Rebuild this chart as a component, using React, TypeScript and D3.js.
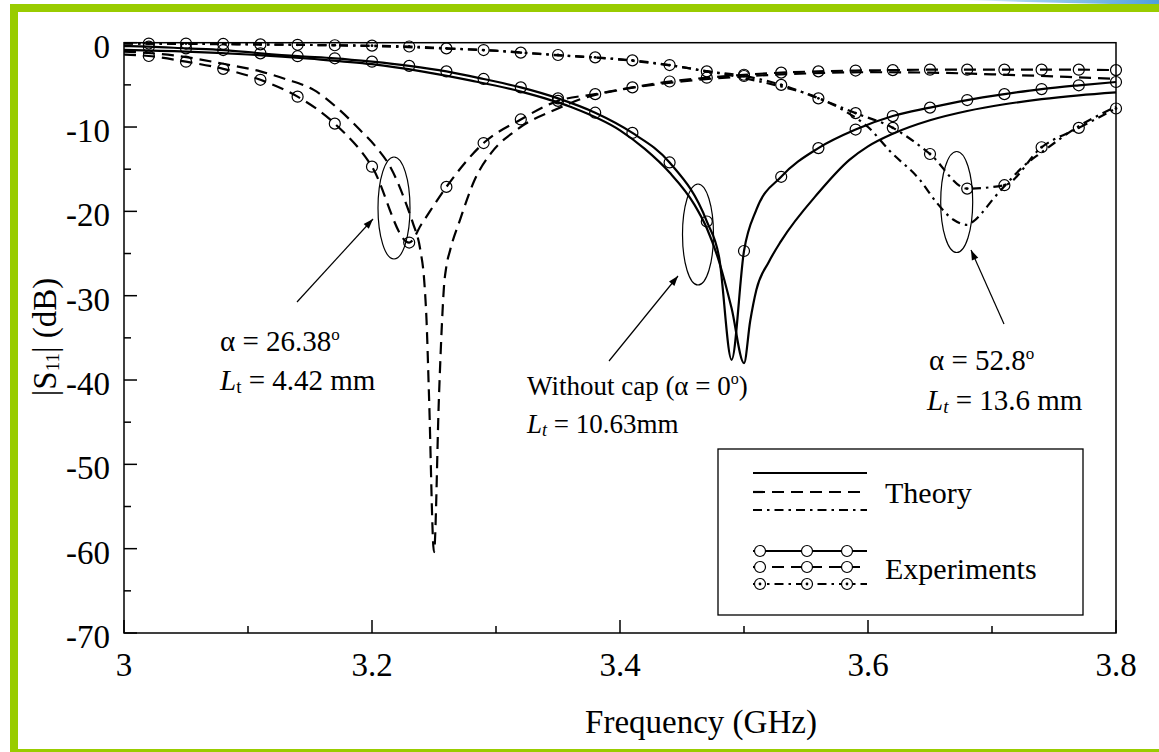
import React, { useEffect, useRef } from 'react';
import * as d3 from 'd3';

// |S11| (dB) vs frequency (GHz)
const theoryNoCap: [number, number][] = [
  [3.0, -0.85], [3.05, -1.05], [3.1, -1.4], [3.15, -1.9], [3.2, -2.55], [3.24, -3.4],
  [3.28, -4.5], [3.32, -5.8], [3.36, -7.6], [3.4, -10.4], [3.42, -12.6], [3.44, -15.4],
  [3.46, -19.2], [3.47, -22.0], [3.48, -26.0], [3.49, -31.5], [3.5, -38.0], [3.505, -33.0],
  [3.51, -29.3], [3.52, -26.0], [3.53, -23.5], [3.56, -17.8], [3.585, -13.9], [3.6, -12.3],
  [3.62, -10.8], [3.65, -9.2], [3.68, -8.1], [3.71, -7.3], [3.74, -6.7], [3.77, -6.25], [3.8, -5.9],
];

const expNoCap: [number, number][] = [
  [3.0, -0.4], [3.02, -0.47], [3.05, -0.67], [3.08, -0.87], [3.11, -1.26], [3.14, -1.6],
  [3.17, -1.85], [3.2, -2.25], [3.23, -2.75], [3.26, -3.4], [3.29, -4.3], [3.32, -5.3],
  [3.35, -6.6], [3.38, -8.3], [3.41, -10.7], [3.44, -14.2], [3.47, -21.2], [3.48, -25.5],
  [3.49, -37.6], [3.5, -24.7], [3.51, -19.8], [3.53, -15.9], [3.56, -12.5], [3.59, -10.3],
  [3.62, -8.7], [3.65, -7.7], [3.68, -6.8], [3.71, -6.1], [3.74, -5.5], [3.77, -5.05], [3.8, -4.66],
];

const theory26: [number, number][] = [
  [3.0, -1.05], [3.04, -1.5], [3.08, -2.5], [3.11, -3.4], [3.13, -4.3], [3.153, -5.6],
  [3.174, -8.0], [3.19, -10.3], [3.204, -12.5], [3.215, -14.8], [3.222, -17.0], [3.228, -19.3],
  [3.233, -21.4], [3.239, -24.6], [3.242, -28.0], [3.244, -33.0], [3.246, -42.0], [3.25, -60.4],
  [3.254, -42.0], [3.2565, -33.0], [3.258, -29.0], [3.26, -26.5], [3.263, -24.6], [3.271, -21.0],
  [3.283, -16.2], [3.296, -13.1], [3.316, -10.4], [3.35, -7.8], [3.37, -6.6], [3.4, -5.6],
  [3.45, -4.6], [3.5, -4.0], [3.55, -3.65], [3.6, -3.5], [3.65, -3.55], [3.7, -3.75],
  [3.75, -4.0], [3.8, -4.3],
];

const exp26: [number, number][] = [
  [3.0, -1.4], [3.02, -1.58], [3.05, -2.25], [3.08, -3.1], [3.11, -4.4], [3.14, -6.4],
  [3.17, -9.6], [3.2, -14.7], [3.23, -23.7], [3.24, -21.5], [3.26, -17.1], [3.29, -11.9],
  [3.32, -9.1], [3.35, -6.9], [3.38, -6.1], [3.41, -5.3], [3.44, -4.6], [3.47, -4.15],
  [3.5, -3.8], [3.53, -3.55], [3.56, -3.4], [3.59, -3.3], [3.62, -3.25], [3.65, -3.2],
  [3.68, -3.2], [3.71, -3.2], [3.74, -3.2], [3.77, -3.2], [3.8, -3.25],
];

const theory52: [number, number][] = [
  [3.0, -0.1], [3.1, -0.2], [3.2, -0.4], [3.26, -0.7], [3.3, -0.95], [3.35, -1.5],
  [3.4, -2.0], [3.45, -2.9], [3.5, -4.2], [3.53, -5.2], [3.55, -6.0], [3.58, -8.0],
  [3.6, -10.0], [3.618, -12.9], [3.642, -16.3], [3.655, -18.9], [3.669, -21.0], [3.68, -21.6],
  [3.685, -21.2], [3.693, -20.0], [3.7, -18.7], [3.712, -16.7], [3.725, -14.7], [3.741, -12.9],
  [3.77, -9.9], [3.8, -7.6],
];

const exp52: [number, number][] = [
  [3.0, -0.05], [3.02, -0.1], [3.05, -0.1], [3.08, -0.15], [3.11, -0.2], [3.14, -0.25],
  [3.17, -0.3], [3.2, -0.35], [3.23, -0.45], [3.26, -0.67], [3.29, -0.87], [3.32, -1.18],
  [3.35, -1.46], [3.38, -1.74], [3.41, -2.1], [3.44, -2.65], [3.47, -3.4], [3.5, -3.95],
  [3.53, -5.0], [3.56, -6.6], [3.59, -8.35], [3.62, -10.1], [3.65, -13.2], [3.68, -17.3],
  [3.71, -16.9], [3.74, -12.4], [3.77, -10.1], [3.8, -7.8],
];

// measured points that carry a circle marker
const markerFreqs = [
  3.02, 3.05, 3.08, 3.11, 3.14, 3.17, 3.2, 3.23, 3.26, 3.29, 3.32, 3.35, 3.38, 3.41,
  3.44, 3.47, 3.5, 3.53, 3.56, 3.59, 3.62, 3.65, 3.68, 3.71, 3.74, 3.77, 3.8,
];

const xTicks = [3.0, 3.2, 3.4, 3.6, 3.8];
const xTickLabels = ['3', '3.2', '3.4', '3.6', '3.8'];
const xMinorTicks = [3.1, 3.3, 3.5, 3.7];
const yTicks = [0, -10, -20, -30, -40, -50, -60, -70];
const yTickLabels = ['0', '-10', '-20', '-30', '-40', '-50', '-60', '-70'];
const yMinorTicks = [-5, -15, -25, -35, -45, -55, -65];

const W = 1159;
const H = 752;
const FONT = "'Liberation Serif', 'DejaVu Serif', serif";
const GREEN = '#99cc00';
const DASH = '12 7';
const DASHDOT = '9 5 2.5 5';

export default function App() {
  const svgRef = useRef<SVGSVGElement>(null);

  useEffect(() => {
    const svg = d3.select(svgRef.current);
    svg.selectAll('*').remove();

    const x = d3.scaleLinear().domain([3, 3.8]).range([124, 1116]);
    const y = d3.scaleLinear().domain([-70, 0]).range([633, 42.7]);

    const defs = svg.append('defs');
    const grad = defs.append('linearGradient').attr('id', 'topblue')
      .attr('x1', '0%').attr('x2', '100%');
    grad.append('stop').attr('offset', '0%').attr('stop-color', '#5aa9e6').attr('stop-opacity', 0);
    grad.append('stop').attr('offset', '40%').attr('stop-color', '#7fbdea').attr('stop-opacity', 0.8);
    grad.append('stop').attr('offset', '100%').attr('stop-color', '#4f9fdc');
    defs.append('marker').attr('id', 'arrow')
      .attr('viewBox', '0 0 10 10').attr('refX', 10).attr('refY', 5)
      .attr('markerWidth', 16).attr('markerHeight', 10).attr('markerUnits', 'userSpaceOnUse')
      .attr('orient', 'auto')
      .append('path').attr('d', 'M0,1.5 L10,5 L0,8.5 Z').attr('fill', '#000');

    // page frame
    svg.append('rect').attr('width', W).attr('height', H).attr('fill', '#fff');
    svg.append('path').attr('d', 'M958,0 L1159,0 L1159,5 Q1060,3 958,0 Z').attr('fill', 'url(#topblue)');
    svg.append('rect').attr('x', 10).attr('y', 4).attr('width', W - 10).attr('height', 8).attr('fill', GREEN);
    svg.append('rect').attr('x', 10).attr('y', 4).attr('width', 8).attr('height', H - 4).attr('fill', GREEN);
    svg.append('rect').attr('x', 10).attr('y', 749).attr('width', W - 10).attr('height', 3).attr('fill', GREEN);

    // curves
    const line = d3.line<[number, number]>()
      .x(d => x(d[0])).y(d => y(d[1]))
      .curve(d3.curveMonotoneX);

    const series = [
      { data: theoryNoCap, dash: null, exp: false, dot: false },
      { data: expNoCap, dash: null, exp: true, dot: false },
      { data: theory26, dash: DASH, exp: false, dot: false },
      { data: exp26, dash: DASH, exp: true, dot: false },
      { data: theory52, dash: DASHDOT, exp: false, dot: false },
      { data: exp52, dash: DASHDOT, exp: true, dot: true },
    ];

    const plot = svg.append('g');
    series.forEach(s => {
      plot.append('path')
        .attr('d', line(s.data))
        .attr('fill', 'none')
        .attr('stroke', '#000')
        .attr('stroke-width', 2.2)
        .attr('stroke-dasharray', s.dash)
        .attr('stroke-linejoin', 'round');
      if (s.exp) {
        const pts = s.data.filter(d => markerFreqs.some(f => Math.abs(f - d[0]) < 1e-6));
        plot.selectAll(null).data(pts).enter().append('circle')
          .attr('cx', d => x(d[0])).attr('cy', d => y(d[1])).attr('r', 5.5)
          .attr('fill', 'none').attr('stroke', '#000').attr('stroke-width', 1.2);
        if (s.dot) {
          plot.selectAll(null).data(pts).enter().append('circle')
            .attr('cx', d => x(d[0])).attr('cy', d => y(d[1])).attr('r', 1.4)
            .attr('fill', '#000');
        }
      }
    });

    // axes box and ticks
    const ax = svg.append('g').attr('stroke', '#000').attr('stroke-width', 1.5);
    ax.append('rect').attr('x', x(3)).attr('y', y(0))
      .attr('width', x(3.8) - x(3)).attr('height', y(-70) - y(0)).attr('fill', 'none');
    xTicks.forEach(t => ax.append('line').attr('x1', x(t)).attr('x2', x(t)).attr('y1', y(-70)).attr('y2', y(-70) - 13));
    xMinorTicks.forEach(t => ax.append('line').attr('x1', x(t)).attr('x2', x(t)).attr('y1', y(-70)).attr('y2', y(-70) - 7));
    yTicks.forEach(t => ax.append('line').attr('x1', x(3)).attr('x2', x(3) + 13).attr('y1', y(t)).attr('y2', y(t)));
    yMinorTicks.forEach(t => ax.append('line').attr('x1', x(3)).attr('x2', x(3) + 7).attr('y1', y(t)).attr('y2', y(t)));

    const txt = svg.append('g').style('font-family', FONT).attr('fill', '#000');
    xTicks.forEach((t, i) => {
      txt.append('text').attr('x', x(t)).attr('y', 676).attr('text-anchor', 'middle')
        .attr('font-size', 33).text(xTickLabels[i]);
    });
    yTicks.forEach((t, i) => {
      txt.append('text').attr('x', 110).attr('y', y(t) + 15).attr('text-anchor', 'end')
        .attr('font-size', 33).text(yTickLabels[i]);
    });

    // axis titles
    txt.append('text').attr('x', 701).attr('y', 733).attr('text-anchor', 'middle')
      .attr('font-size', 33).text('Frequency (GHz)');
    const yt = txt.append('text').attr('transform', 'translate(56,337) rotate(-90)')
      .attr('text-anchor', 'middle').attr('font-size', 33);
    yt.append('tspan').text('|S');
    yt.append('tspan').attr('font-size', 19).attr('dy', 3).text('11');
    yt.append('tspan').attr('dy', -3).text('| (dB)');

    // annotations: ellipses and arrows
    const ann = svg.append('g').attr('stroke', '#000').attr('fill', 'none').attr('stroke-width', 1.2);
    [[394, 208, 16, 51], [698, 234.5, 15.5, 50.5], [956.7, 202, 16, 50.5]].forEach(([cx, cy, rx, ry]) => {
      ann.append('ellipse').attr('cx', cx).attr('cy', cy).attr('rx', rx).attr('ry', ry);
    });
    [[297, 302, 373, 219], [609, 361, 678, 276], [1004, 324, 971, 250]].forEach(([x1, y1, x2, y2]) => {
      ann.append('line').attr('x1', x1).attr('y1', y1).attr('x2', x2).attr('y2', y2)
        .attr('marker-end', 'url(#arrow)');
    });

    const a1 = txt.append('text').attr('x', 220).attr('y', 351).attr('font-size', 29);
    a1.append('tspan').text('\u03b1 = 26.38');
    a1.append('tspan').attr('font-size', 17).attr('dy', -11).text('o');
    const l1 = txt.append('text').attr('x', 220).attr('y', 390).attr('font-size', 29);
    l1.append('tspan').attr('font-style', 'italic').text('L');
    l1.append('tspan').attr('font-size', 19).attr('dy', 3).text('t');
    l1.append('tspan').attr('dy', -3).text(' = 4.42 mm');

    const a2 = txt.append('text').attr('x', 527).attr('y', 395).attr('font-size', 27);
    a2.append('tspan').text('Without cap (\u03b1 = 0');
    a2.append('tspan').attr('font-size', 16).attr('dy', -11).text('o');
    a2.append('tspan').attr('dy', 11).text(')');
    const l2 = txt.append('text').attr('x', 527).attr('y', 433).attr('font-size', 27);
    l2.append('tspan').attr('font-style', 'italic').text('L');
    l2.append('tspan').attr('font-style', 'italic').attr('font-size', 18).attr('dy', 3).text('t');
    l2.append('tspan').attr('dy', -3).text(' = 10.63mm');

    const a3 = txt.append('text').attr('x', 929).attr('y', 370).attr('font-size', 29);
    a3.append('tspan').text('\u03b1 = 52.8');
    a3.append('tspan').attr('font-size', 17).attr('dy', -11).text('o');
    const l3 = txt.append('text').attr('x', 927).attr('y', 410).attr('font-size', 29);
    l3.append('tspan').attr('font-style', 'italic').text('L');
    l3.append('tspan').attr('font-style', 'italic').attr('font-size', 19).attr('dy', 3).text('t');
    l3.append('tspan').attr('dy', -3).text(' = 13.6 mm');

    // legend
    const lg = svg.append('g');
    lg.append('rect').attr('x', 718).attr('y', 449).attr('width', 365).attr('height', 166)
      .attr('fill', '#fff').attr('stroke', '#000').attr('stroke-width', 1.3);
    const styles = [null, DASH, DASHDOT];
    [473, 492, 510].forEach((ly, i) => {
      lg.append('line').attr('x1', 753).attr('x2', 867).attr('y1', ly).attr('y2', ly)
        .attr('stroke', '#000').attr('stroke-width', 2.2).attr('stroke-dasharray', styles[i]);
    });
    [551, 567, 584].forEach((ly, i) => {
      lg.append('line').attr('x1', 753).attr('x2', 867).attr('y1', ly).attr('y2', ly)
        .attr('stroke', '#000').attr('stroke-width', 2.2).attr('stroke-dasharray', styles[i]);
      [760, 807, 847].forEach(cx => {
        lg.append('circle').attr('cx', cx).attr('cy', ly).attr('r', 5.5)
          .attr('fill', '#fff').attr('stroke', '#000').attr('stroke-width', 1.2);
        if (i === 2) lg.append('circle').attr('cx', cx).attr('cy', ly).attr('r', 1.4).attr('fill', '#000');
      });
    });
    lg.append('text').attr('x', 885).attr('y', 503).style('font-family', FONT).attr('font-size', 30).text('Theory');
    lg.append('text').attr('x', 885).attr('y', 579).style('font-family', FONT).attr('font-size', 30).text('Experiments');
  }, []);

  return (
    <div style={{ position: 'absolute', left: 0, top: 0 }}>
      <svg ref={svgRef} width={W} height={H}></svg>
    </div>
  );
}
